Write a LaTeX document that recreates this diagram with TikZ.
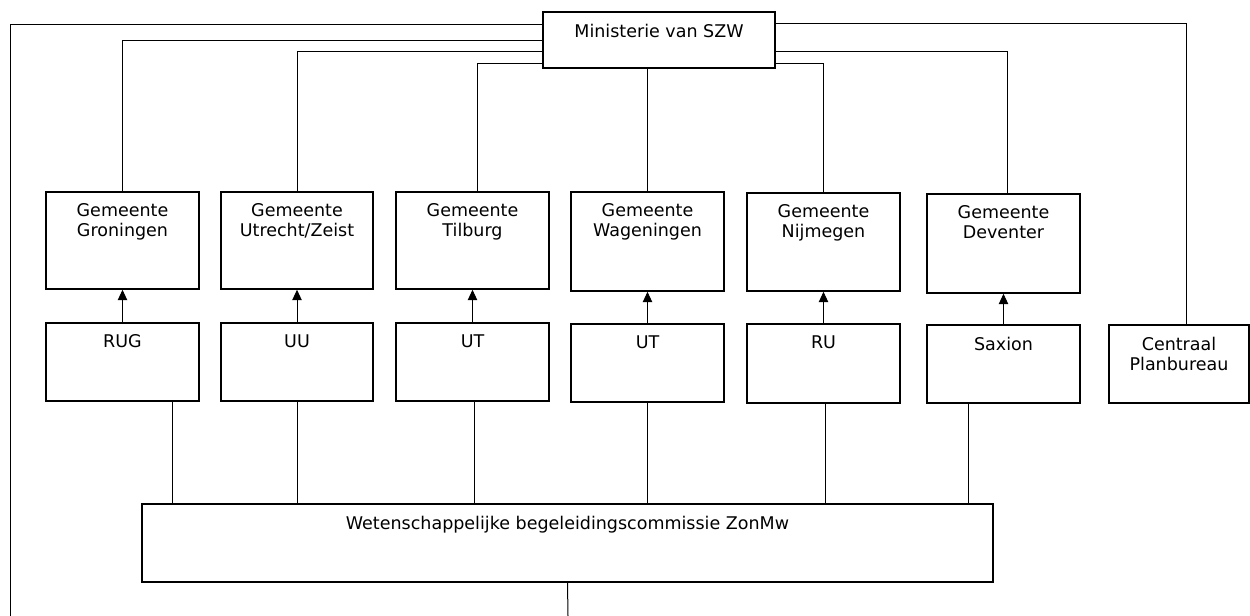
\documentclass[tikz,border=0pt]{standalone}
\usepackage{fontspec}
\setmainfont{DejaVu Sans}
\usetikzlibrary{arrows.meta}
\tikzset{
  orgbox/.style={draw, rectangle, line width=0.9pt, inner sep=0pt},
  boxtext/.style={anchor=north, align=center, yshift=-4pt, font=\fontsize{10.5}{12}\selectfont},
  conn/.style={line width=0.6pt},
  up/.style={conn, -{Triangle[width=5.6pt,length=6.2pt]}}
}
\newcommand{\orgnode}[6]{\node[orgbox, minimum width=#4*0.6pt, minimum height=#5*0.6pt, label={[boxtext]north:#6}] (#1) at (#2,#3) {};}

\begin{document}
\begin{tikzpicture}[x=0.6pt,y=-0.6pt]
        \useasboundingbox[fill=white] (0,0) rectangle (1250,616);
        %nodes
        \orgnode{min}{659}{40}{232}{56}{Ministerie van SZW}
        \orgnode{gro}{122.5}{240.5}{153}{97}{Gemeente\\Groningen}
        \orgnode{utr}{297}{240.5}{152}{97}{Gemeente\\Utrecht/Zeist}
        \orgnode{til}{472.5}{240.5}{153}{97}{Gemeente\\Tilburg}
        \orgnode{wag}{647.5}{241.5}{153}{99}{Gemeente\\Wageningen}
        \orgnode{nij}{823.5}{242}{153}{98}{Gemeente\\Nijmegen}
        \orgnode{dev}{1003.5}{243.5}{153}{99}{Gemeente\\Deventer}
        \orgnode{rug}{122.5}{362}{153}{78}{RUG}
        \orgnode{uu}{297}{362}{152}{78}{UU}
        \orgnode{uta}{472.5}{362}{153}{78}{UT}
        \orgnode{utb}{647.5}{363}{153}{78}{UT}
        \orgnode{ru}{823.5}{363.5}{153}{79}{RU}
        \orgnode{sax}{1003.5}{364}{153}{78}{Saxion}
        \orgnode{cpb}{1179}{364}{140}{78}{Centraal\\Planbureau}
        \orgnode{wbc}{567.5}{543}{851}{78}{Wetenschappelijke begeleidingscommissie ZonMw}
        \coordinate (lend) at (10,616);
        \coordinate (cend) at (568,616);
        %edges
        \draw[conn] ([yshift=9pt]min.west) -| (lend);
        \draw[conn] ([yshift=-0.6pt]min.west) -| (gro.north);
        \draw[conn] ([yshift=-7.2pt]min.west) -| (utr.north);
        \draw[conn] ([yshift=-14.4pt]min.west) -| ([xshift=2.7pt]til.north);
        \draw[conn] (min.south -| wag.north) -- (wag.north);
        \draw[conn] ([yshift=-14.4pt]min.east) -| (nij.north);
        \draw[conn] ([yshift=-7.2pt]min.east) -| ([xshift=2.1pt]dev.north);
        \draw[conn] ([yshift=9.6pt]min.east) -| ([xshift=4.2pt]cpb.north);
        \draw[up] (rug) -- (gro);
        \draw[up] (uu) -- (utr);
        \draw[up] (uta) -- (til);
        \draw[up] (utb) -- (wag);
        \draw[up] (ru) -- (nij);
        \draw[up] (sax) -- (dev);
        \draw[conn] ([xshift=29.7pt]rug.south) -- ([xshift=29.7pt]rug.south |- wbc.north);
        \draw[conn] (uu.south) -- (uu.south |- wbc.north);
        \draw[conn] ([xshift=0.9pt]uta.south) -- ([xshift=0.9pt]uta.south |- wbc.north);
        \draw[conn] (utb.south) -- (utb.south |- wbc.north);
        \draw[conn] ([xshift=0.9pt]ru.south) -- ([xshift=0.9pt]ru.south |- wbc.north);
        \draw[conn] ([xshift=-21.3pt]sax.south) -- ([xshift=-21.3pt]sax.south |- wbc.north);
        \draw[conn] (wbc.south) -- (cend);
\end{tikzpicture}
\end{document}
